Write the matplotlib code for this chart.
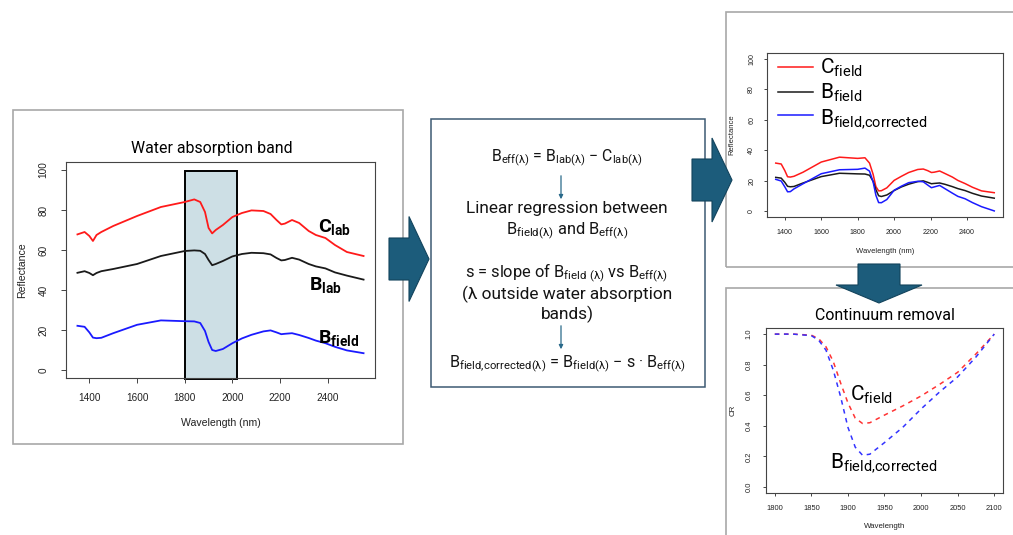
import matplotlib
matplotlib.use('Agg')
import matplotlib.pyplot as plt
from matplotlib.patches import Rectangle, Polygon, FancyArrowPatch
from matplotlib.lines import Line2D

# ----------------------------------------------------------------------
# Spectra (reflectance, %)
# ----------------------------------------------------------------------

wavelength = [1350, 1380, 1400, 1415, 1430, 1450, 1500, 1600, 1700, 1800,
              1840, 1865, 1885, 1900, 1915, 1930, 1960, 2000, 2040, 2080,
              2130, 2160, 2185, 2205, 2220, 2250, 2280, 2320, 2350, 2390,
              2430, 2480, 2550]

c_lab = [67.8, 69.0, 67.0, 64.5, 67.5, 69.0, 72.0, 77.0, 81.5, 84.0,
         85.3, 84.0, 79.0, 71.0, 68.3, 70.0, 72.5, 76.5, 78.5, 79.8,
         79.5, 78.0, 75.0, 72.8, 73.2, 75.0, 73.5, 69.5, 67.5, 66.0,
         62.5, 59.0, 57.0]

b_lab = [48.6, 49.4, 48.5, 47.4, 48.5, 49.4, 50.5, 53.0, 57.0, 59.5,
         59.8, 59.6, 58.0, 55.0, 52.4, 53.0, 54.5, 56.8, 58.0, 58.6,
         58.4, 57.8, 56.0, 54.8, 55.0, 56.1, 55.2, 53.0, 51.8, 50.8,
         48.8, 47.2, 45.2]

b_field = [22.1, 21.6, 18.8, 16.2, 15.9, 16.1, 18.4, 22.6, 24.8, 24.4,
           24.3, 23.5, 19.5, 14.0, 10.0, 9.5, 10.5, 13.4, 15.8, 17.6,
           19.3, 19.8, 18.8, 17.9, 18.1, 18.4, 17.5, 16.0, 14.7, 13.4,
           11.6, 9.8, 8.4]

c_field = [31.5, 30.9, 26.5, 22.5, 22.3, 22.8, 25.5, 32.2, 35.4, 34.6,
           35.0, 31.5, 24.0, 16.0, 13.2, 13.3, 15.2, 20.1, 22.8, 25.3,
           27.3, 27.6, 26.5, 25.3, 25.5, 26.3, 24.6, 22.3, 20.1, 18.0,
           15.6, 13.2, 12.0]

b_field_corr = [20.8, 19.7, 15.8, 12.6, 12.7, 14.5, 17.9, 24.5, 27.1, 27.4,
                28.2, 26.2, 19.0, 10.3, 5.5, 5.4, 7.5, 13.6, 16.3, 18.6,
                19.5, 19.2, 17.0, 15.3, 15.8, 16.8, 14.6, 11.7, 9.6, 8.0,
                5.5, 2.8, 0.0]

# continuum removed band around 1900 nm
wl_cr = [1800, 1825, 1850, 1860, 1870, 1880, 1890, 1900, 1910, 1920,
         1930, 1950, 1975, 2000, 2025, 2050, 2075, 2100]
cr_c_field = [1.0, 1.0, 0.993, 0.97, 0.917, 0.82, 0.68, 0.55, 0.45, 0.415,
              0.42, 0.47, 0.53, 0.595, 0.67, 0.75, 0.87, 1.0]
cr_b_corr = [1.0, 1.0, 0.99, 0.96, 0.895, 0.764, 0.59, 0.39, 0.26, 0.207,
             0.214, 0.29, 0.39, 0.51, 0.62, 0.72, 0.85, 1.0]

band_start, band_end = 1800, 2020

refl_ticks = [0, 20, 40, 60, 80, 100]
wl_ticks = [1400, 1600, 1800, 2000, 2200, 2400]
cr_ticks = [0.0, 0.2, 0.4, 0.6, 0.8, 1.0]
cr_wl_ticks = [1800, 1850, 1900, 1950, 2000, 2050, 2100]

# ----------------------------------------------------------------------
# Helpers (pixel layout, origin top-left)
# ----------------------------------------------------------------------

W, H = 1013, 535
R_FONT = 'Liberation Sans'
TXT_FONT = 'Roboto'
ARROW_FC = '#1c5c7b'
ARROW_EC = '#12435c'

plt.rcParams['font.family'] = [TXT_FONT, 'DejaVu Sans']
plt.rcParams['mathtext.fontset'] = 'custom'
plt.rcParams['mathtext.rm'] = TXT_FONT
plt.rcParams['mathtext.bf'] = TXT_FONT + ':bold'
plt.rcParams['mathtext.it'] = TXT_FONT + ':italic'
plt.rcParams['mathtext.fallback'] = 'stixsans'


def fxy(x, y):
    return x / W, 1 - y / H


def px_rect(l, t, r, b):
    return [l / W, 1 - b / H, (r - l) / W, (b - t) / H]


def r_axes(fig, rect, xlim, ylim, xticks, yticks, xlabel, ylabel,
           tick_size, label_size, xlab_y, ylab_x, tick_len, xpad, ypad,
           yfmt='{:g}'):
    """Axes drawn in the look of R base graphics."""
    ax = fig.add_axes(rect)
    ax.set_xlim(*xlim)
    ax.set_ylim(*ylim)
    ax.set_xticks(xticks)
    ax.set_yticks(yticks)
    ax.set_yticklabels([yfmt.format(v) for v in yticks])
    for s in ax.spines.values():
        s.set_color('#444444')
        s.set_linewidth(0.8)
    ax.tick_params(direction='out', length=tick_len, width=0.7, color='#444444',
                   labelsize=tick_size, labelcolor='#222222')
    ax.tick_params(axis='x', pad=xpad)
    ax.tick_params(axis='y', pad=ypad, labelrotation=90)
    for lab in ax.get_xticklabels() + ax.get_yticklabels():
        lab.set_fontfamily(R_FONT)
    for lab in ax.get_yticklabels():
        lab.set_va('center')
    ax.set_xlabel(xlabel, fontsize=label_size, family=R_FONT, color='#222222', va='center')
    ax.set_ylabel(ylabel, fontsize=label_size, family=R_FONT, color='#222222', va='center')
    ax.xaxis.set_label_coords(0.5, xlab_y)
    ax.yaxis.set_label_coords(ylab_x, 0.5)
    return ax


def right_arrow(fig, x0, xh, x1, yc, shaft, head):
    pts = [(x0, yc - shaft), (xh, yc - shaft), (xh, yc - head), (x1, yc),
           (xh, yc + head), (xh, yc + shaft), (x0, yc + shaft)]
    fig.add_artist(Polygon([fxy(*p) for p in pts], closed=True, transform=fig.transFigure,
                           fc=ARROW_FC, ec=ARROW_EC, lw=0.8, zorder=5))


def down_arrow(fig, y0, yh, y1, xc, shaft, head):
    pts = [(xc - shaft, y0), (xc - shaft, yh), (xc - head, yh), (xc, y1),
           (xc + head, yh), (xc + shaft, yh), (xc + shaft, y0)]
    fig.add_artist(Polygon([fxy(*p) for p in pts], closed=True, transform=fig.transFigure,
                           fc=ARROW_FC, ec=ARROW_EC, lw=0.8, zorder=5))


def frame(fig, l, t, r, b, color, lw):
    x, y = fxy(l, b)
    fig.add_artist(Rectangle((x, y), (r - l) / W, (b - t) / H, transform=fig.transFigure,
                             fill=False, ec=color, lw=lw, zorder=-1))


fig = plt.figure(figsize=(W / 100, H / 100), dpi=100)

# ----------------------------------------------------------------------
# Panel frames
# ----------------------------------------------------------------------

frame(fig, 13, 110, 403, 444, '#a8a8a8', 1.2)
frame(fig, 726, 12, 1025, 267, '#a8a8a8', 1.2)
frame(fig, 726, 288, 1025, 545, '#a8a8a8', 1.2)
frame(fig, 431, 119, 705, 387, '#3d5a73', 1.1)

# ----------------------------------------------------------------------
# 1. Lab spectra with the water absorption band
# ----------------------------------------------------------------------

ax1 = r_axes(fig, px_rect(66, 162, 375, 378), (1302, 2598), (-4, 104),
             wl_ticks, refl_ticks, 'Wavelength (nm)', 'Reflectance',
             7.2, 7.6, -0.208, -0.142, 3.5, 7, 9)
ax1.add_patch(Rectangle((band_start, -4.6), band_end - band_start, 103.9,
                        fc='#cddfe5', ec='black', lw=1.4, zorder=1, clip_on=False))
ax1.plot(wavelength, c_lab, color='#ff1a1a', lw=1.3, zorder=3)
ax1.plot(wavelength, b_lab, color='#1a1a1a', lw=1.3, zorder=3)
ax1.plot(wavelength, b_field, color='#1a1aff', lw=1.3, zorder=3)
ax1.text(2359, 69, r'C$_{\mathbf{lab}}$', fontsize=14, fontweight='bold', ha='left', va='baseline')
ax1.text(2321, 40, r'B$_{\mathbf{lab}}$', fontsize=14, fontweight='bold', ha='left', va='baseline')
ax1.text(2359, 13.5, r'B$_{\mathbf{field}}$', fontsize=14, fontweight='bold', ha='left', va='baseline')
fig.text(*fxy(212, 148), 'Water absorption band', fontsize=11.4, ha='center', va='center')

# ----------------------------------------------------------------------
# 2. Correction steps
# ----------------------------------------------------------------------

cx = 567
steps = [
    (162, r'B$_{\mathrm{eff(λ)}}$ = B$_{\mathrm{lab(λ)}}$ − C$_{\mathrm{lab(λ)}}$', 11.4),
    (213, 'Linear regression between', 12.4),
    (235, r'B$_{\mathrm{field(λ)}}$ and B$_{\mathrm{eff(λ)}}$', 11.8),
    (278, r'$\mathrm{s}$ = slope of B$_{\mathrm{field\ (λ)}}$ vs B$_{\mathrm{eff(λ)}}$', 11.8),
    (299, '(λ outside water absorption', 12.4),
    (319, 'bands)', 12.4),
    (368, r'B$_{\mathrm{field{,}corrected(λ)}}$ = B$_{\mathrm{field(λ)}}$ − s · B$_{\mathrm{eff(λ)}}$', 11.6),
]
for y, s, size in steps:
    fig.text(*fxy(cx, y), s, fontsize=size, ha='center', va='baseline', color='#141414')

for y0, y1 in [(173, 202), (323, 352)]:
    fig.add_artist(FancyArrowPatch(fxy(561, y0), fxy(561, y1), transform=fig.transFigure,
                                   arrowstyle='-|>', mutation_scale=6, lw=0.9,
                                   color='#2a6a8a', zorder=5))

# ----------------------------------------------------------------------
# 3. Field spectra before / after correction
# ----------------------------------------------------------------------

ax2 = r_axes(fig, px_rect(767, 53, 1003, 217), (1302, 2598), (-4, 104),
             wl_ticks, refl_ticks, 'Wavelength (nm)', 'Reflectance',
             5.1, 5.5, -0.213, -0.148, 2.5, 6, 6)
ax2.plot(wavelength, c_field, color='#ff1a1a', lw=1.1)
ax2.plot(wavelength, b_field, color='#1a1a1a', lw=1.1)
ax2.plot(wavelength, b_field_corr, color='#1a1aff', lw=1.1)
handles = [Line2D([], [], color=c, lw=1.1) for c in ['#ff1a1a', '#1a1a1a', '#1a1aff']]
ax2.legend(handles, [r'C$_{\mathrm{field}}$', r'B$_{\mathrm{field}}$', r'B$_{\mathrm{field{,}corrected}}$'],
           loc='upper left', bbox_to_anchor=(0.045, 0.975), frameon=False,
           fontsize=15, handlelength=1.7, handletextpad=0.35, labelspacing=0.12,
           borderpad=0, borderaxespad=0)

# ----------------------------------------------------------------------
# 4. Continuum removal
# ----------------------------------------------------------------------

ax3 = r_axes(fig, px_rect(766, 328, 1003, 493), (1788, 2112), (-0.04, 1.04),
             cr_wl_ticks, cr_ticks, 'Wavelength', 'CR',
             5.4, 5.7, -0.206, -0.139, 2.5, 6, 7, yfmt='{:.1f}')
ax3.plot(wl_cr, cr_c_field, color='#ff3333', lw=1.1, ls=(0, (3, 3)))
ax3.plot(wl_cr, cr_b_corr, color='#3333ff', lw=1.1, ls=(0, (3, 3)))
ax3.text(1903, 0.564, r'C$_{\mathrm{field}}$', fontsize=15, ha='left', va='baseline')
ax3.text(1875.5, 0.132, r'B$_{\mathrm{field{,}corrected}}$', fontsize=15, ha='left', va='baseline')
fig.text(*fxy(885, 315), 'Continuum removal', fontsize=11.5, ha='center', va='center')

# ----------------------------------------------------------------------
# Flow arrows
# ----------------------------------------------------------------------

right_arrow(fig, 389, 409, 429, 259, 21, 42.5)
right_arrow(fig, 692, 712, 732, 180, 21, 42)
down_arrow(fig, 264, 285, 303, 879, 21, 43)

fig.savefig('out.png', dpi=100)
